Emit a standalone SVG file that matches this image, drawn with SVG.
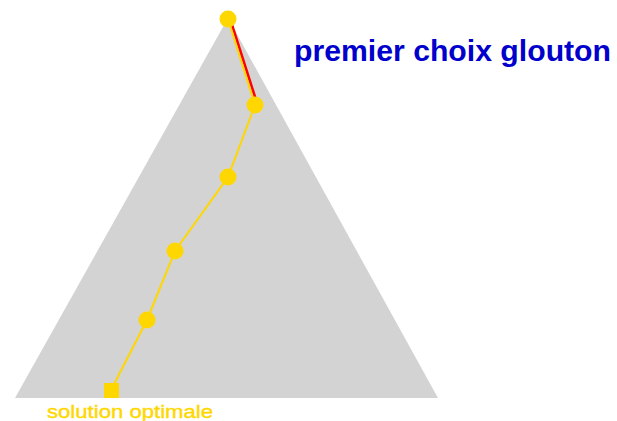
<svg xmlns="http://www.w3.org/2000/svg" width="617" height="421" viewBox="0 0 617 421">
<style>
.pt{fill:#ffd700}
.path{fill:none;stroke:#ffd700;stroke-width:2}
</style>
<rect width="617" height="421" fill="#fff"/>
<g id="triangle"><polygon points="228,18 15,398 438,398" fill="#d3d3d3"/></g>
<g id="connectors">
<line x1="230.5" y1="20" x2="257" y2="103" stroke="#ff0000" stroke-width="2.5"/>
<polyline class="path" points="228,19 255,105 228,177 175,251 147,320 111,390"/>
</g>
<g id="n0"><circle class="pt" cx="228" cy="19" r="8.5"/></g>
<g id="n1"><circle class="pt" cx="255" cy="105" r="8.5"/></g>
<g id="n2"><circle class="pt" cx="228" cy="177" r="8.5"/></g>
<g id="n3"><circle class="pt" cx="175" cy="251" r="8.5"/></g>
<g id="n4"><circle class="pt" cx="147" cy="320" r="8.5"/></g>
<g id="n5"><rect class="pt" x="104" y="383" width="15" height="15"/></g>
<g id="title"><text x="294" y="61" font-family="Liberation Sans, Arial, sans-serif" font-weight="bold" font-size="29" fill="#0000cc" textLength="317" lengthAdjust="spacingAndGlyphs">premier choix glouton</text></g>
<g id="label"><text x="47" y="418" font-family="Liberation Sans, Arial, sans-serif" font-size="19" fill="#ffd700" stroke="#ffd700" stroke-width="0.4" textLength="166" lengthAdjust="spacingAndGlyphs">solution optimale</text></g>
</svg>
